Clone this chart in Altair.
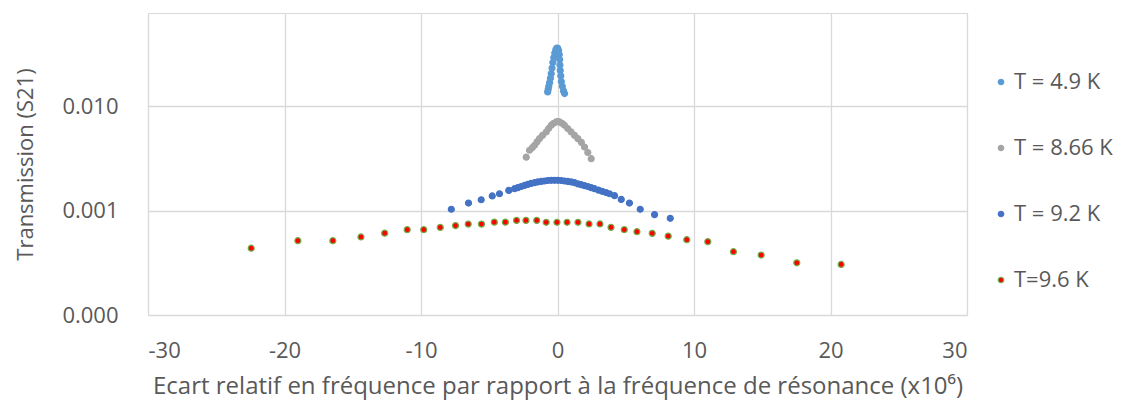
import altair as alt
import pandas as pd

# ---- data ----
x_49 = [-0.72, -0.68, -0.64, -0.58, -0.52, -0.46, -0.40, -0.34, -0.27, -0.20, -0.12, -0.05, 0.02, 0.08, 0.13, 0.16, 0.18, 0.20, 0.24, 0.28, 0.35, 0.44, 0.52]
y_49 = [0.0137, 0.0145, 0.0155, 0.0168, 0.0185, 0.0205, 0.0232, 0.0262, 0.0292, 0.0322, 0.0348, 0.0360, 0.0358, 0.0340, 0.0312, 0.0280, 0.0248, 0.0220, 0.0195, 0.0172, 0.0155, 0.0140, 0.0132]

x_866 = [-2.29, -2.05, -1.85, -1.68, -1.50, -1.32, -1.10, -0.83, -0.65, -0.46, -0.28, -0.10, 0.02, 0.15, 0.33, 0.51, 0.75, 1.00, 1.25, 1.49, 1.75, 1.98, 2.22, 2.47]
y_866 = [0.00325, 0.00378, 0.00400, 0.00422, 0.00455, 0.00489, 0.00525, 0.00566, 0.00610, 0.00657, 0.00685, 0.00706, 0.00712, 0.00706, 0.00685, 0.00657, 0.00610, 0.00566, 0.00525, 0.00489, 0.00450, 0.00406, 0.00360, 0.00314]

x_92 = [-7.78, -6.52, -5.59, -4.78, -4.25, -3.57, -3.15, -2.90, -2.66, -2.42, -2.18, -1.93, -1.68, -1.44, -1.19, -0.95, -0.71, -0.46, -0.22, 0.02, 0.27, 0.51, 0.75, 1.00, 1.25, 1.50, 1.74, 1.98, 2.22, 2.46, 2.71, 3.00, 3.27, 3.55, 3.81, 4.18, 4.67, 5.27, 6.06, 7.11, 8.26]
y_92 = [0.00103, 0.00118, 0.00127, 0.00138, 0.00145, 0.00156, 0.00162, 0.00166, 0.00170, 0.00174, 0.00178, 0.00182, 0.00185, 0.00188, 0.00190, 0.00192, 0.00194, 0.00195, 0.00195, 0.00195, 0.00194, 0.00192, 0.00190, 0.00188, 0.00185, 0.00180, 0.00177, 0.00173, 0.00170, 0.00166, 0.00162, 0.00157, 0.00153, 0.00149, 0.00145, 0.00139, 0.00128, 0.00118, 0.00103, 0.000915, 0.000843]

x_96 = [-22.44, -19.02, -16.46, -14.40, -12.66, -11.01, -9.80, -8.59, -7.47, -6.54, -5.57, -4.63, -3.82, -3.00, -2.31, -1.52, -0.83, -0.04, 0.70, 1.50, 2.31, 3.11, 3.92, 4.89, 5.82, 6.94, 8.11, 9.47, 11.01, 12.89, 14.92, 17.53, 20.78]
y_96 = [0.000436, 0.000515, 0.000515, 0.000559, 0.000608, 0.000657, 0.000657, 0.000690, 0.000718, 0.000742, 0.000742, 0.000775, 0.000775, 0.000805, 0.000805, 0.000805, 0.000772, 0.000772, 0.000772, 0.000772, 0.000745, 0.000745, 0.000691, 0.000657, 0.000628, 0.000605, 0.000569, 0.000526, 0.000504, 0.000404, 0.000375, 0.000316, 0.000305]

series_names = ["T = 4.9 K", "T = 8.66 K", "T = 9.2 K", "T=9.6 K"]
fill_colors = ["#5B9BD5", "#A5A5A5", "#4472C4", "#FF0000"]
stroke_colors = ["#5B9BD5", "#A5A5A5", "#4472C4", "#70AD47"]
x_ticks = [-30, -20, -10, 0, 10, 20, 30]
y_ticks = [0.0001, 0.001, 0.01]

rows = []
for name, xs, ys in zip(series_names, [x_49, x_866, x_92, x_96], [y_49, y_866, y_92, y_96]):
    for a, b in zip(xs, ys):
        rows.append({"serie": name, "x": a, "y": b})
df = pd.DataFrame(rows)

FONT = "Open Sans"
GREY = "#595959"

legend_kw = dict(title=None, orient="none", legendX=842, legendY=58,
                 rowPadding=44, symbolSize=30, symbolStrokeWidth=1.2,
                 labelFontSize=22, labelColor=GREY, labelFont=FONT,
                 labelOffset=2, symbolType="circle")

chart = alt.Chart(df).mark_point(filled=True, size=36, strokeWidth=1.2, opacity=1).encode(
    x=alt.X("x:Q",
            scale=alt.Scale(domain=[-30, 30], nice=False),
            axis=alt.Axis(values=x_ticks, labelExpr="toString(datum.value)", labelPadding=25,
                          tickSize=0, domain=False, labelFontSize=22,
                          title="Ecart relatif en fréquence par rapport à la fréquence de résonance (x10⁶)",
                          titleFontSize=24, titlePadding=13)),
    y=alt.Y("y:Q",
            scale=alt.Scale(type="log", domain=[0.0001, 0.078], nice=False),
            axis=alt.Axis(values=y_ticks, format=".3f", labelPadding=30, tickSize=0, domain=False,
                          labelFontSize=22, title="Transmission (S21)", titleFontSize=22,
                          titlePadding=24)),
    fill=alt.Fill("serie:N", scale=alt.Scale(domain=series_names, range=fill_colors),
                  legend=alt.Legend(**legend_kw)),
    stroke=alt.Stroke("serie:N", scale=alt.Scale(domain=series_names, range=stroke_colors),
                      legend=alt.Legend(**legend_kw)),
).properties(
    width=819, height=302,
    autosize=alt.AutoSizeParams(type="none"),
    padding={"left": 140, "top": 5, "right": 160, "bottom": 88},
).configure_view(
    stroke="#D9D9D9", strokeWidth=1
).configure_axis(
    gridColor="#D9D9D9", gridWidth=1.3,
    labelFont=FONT, labelColor=GREY,
    titleFont=FONT, titleColor=GREY, titleFontWeight="normal",
)

chart.save("out.html", embed_options={"renderer": "svg", "actions": False})
